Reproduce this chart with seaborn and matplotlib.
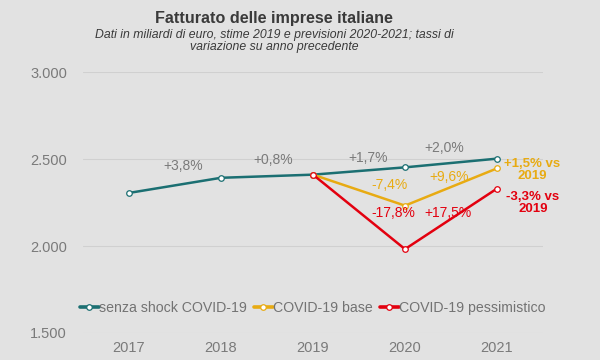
import pandas as pd
import numpy as np
import matplotlib.pyplot as plt
import seaborn as sns

# data (miliardi di euro)
anni = [2017, 2018, 2019, 2020, 2021]
senza_shock = [2305, 2392, 2410, 2452, 2502]
anni_covid = [2019, 2020, 2021]
covid_base = [2410, 2232, 2446]
covid_pess = [2410, 1982, 2330]

serie_nomi = ["senza shock COVID-19", "COVID-19 base", "COVID-19 pessimistico"]
colori = ["#1b6f72", "#e8ab12", "#e3000f"]

df = pd.concat([
    pd.DataFrame({"anno": anni, "valore": senza_shock, "serie": serie_nomi[0]}),
    pd.DataFrame({"anno": anni_covid, "valore": covid_base, "serie": serie_nomi[1]}),
    pd.DataFrame({"anno": anni_covid, "valore": covid_pess, "serie": serie_nomi[2]}),
])

sns.set_style("white")
plt.rcParams['font.family'] = ['Liberation Sans', 'DejaVu Sans']
bg = "#e2e2e2"
fig = plt.figure(figsize=(6, 3.6), dpi=100, facecolor=bg)
ax = fig.add_axes([83/600, 27/360, 460/600, 261/360], facecolor=bg)

sns.lineplot(data=df, x="anno", y="valore", hue="serie", palette=colori,
             marker="o", markersize=4, markerfacecolor="white", markeredgewidth=0.9,
             linewidth=1.8, ax=ax)
for line, c in zip(ax.lines, colori):
    line.set_markeredgecolor(c)

ax.set_xlim(2016.5, 2021.5)
ax.set_ylim(1500, 3000)
ax.set_xticks(anni)
ax.set_yticks([1500, 2000, 2500, 3000])
ax.set_yticklabels(["1.500", "2.000", "2.500", "3.000"])
ax.tick_params(colors="#7a7a7a", labelsize=10.5, length=0)
ax.tick_params(axis="y", pad=11.5)
ax.tick_params(axis="x", pad=6)
ax.set_xlabel("")
ax.set_ylabel("")
ax.grid(axis="y", color="#d0d0d0", linewidth=0.8)
ax.set_axisbelow(True)
sns.despine(ax=ax, left=True, bottom=True)

# etichette variazioni
grigio = "#7a7a7a"
ann = [
    (2017.59, 2460, "+3,8%", grigio),
    (2018.57, 2494, "+0,8%", grigio),
    (2019.6, 2505, "+1,7%", grigio),
    (2020.43, 2563, "+2,0%", grigio),
    (2019.83, 2351, "-7,4%", colori[1]),
    (2020.48, 2397, "+9,6%", colori[1]),
    (2019.87, 2190, "-17,8%", colori[2]),
    (2020.47, 2190, "+17,5%", colori[2]),
]
for x, y, t, c in ann:
    ax.text(x, y, t, color=c, fontsize=10, ha="center", va="center")
ax.text(2021.38, 2437, "+1,5% vs\n2019", color=colori[1], fontsize=9.5,
        fontweight="bold", ha="center", va="center", linespacing=1.05, clip_on=False)
ax.text(2021.39, 2247, "-3,3% vs\n2019", color=colori[2], fontsize=9.5,
        fontweight="bold", ha="center", va="center", linespacing=1.05, clip_on=False)

leg = ax.legend(loc="center", bbox_to_anchor=(313/460 - 83/460, 0.096), ncol=3, frameon=False,
                fontsize=10.2, handlelength=1.3, handletextpad=0.05, columnspacing=0.5,
                borderaxespad=0)
for h, c in zip(leg.legend_handles, colori):
    h.set_markeredgecolor(c)
    h.set_markerfacecolor("white")
    h.set_linewidth(2.6)
for txt in leg.get_texts():
    txt.set_color("#737373")

fig.text(274/600, 1 - 18.5/360, "Fatturato delle imprese italiane", ha="center", va="center",
         fontsize=11.6, fontweight="bold", color="#3a3a3a")
fig.text(274/600, 1 - 41/360,
         "Dati in miliardi di euro, stime 2019 e previsioni 2020-2021; tassi di\nvariazione su anno precedente",
         ha="center", va="center", fontsize=8.8, style="italic", color="#3a3a3a", linespacing=1.05)

fig.savefig("out.png", dpi=100, facecolor=bg)
